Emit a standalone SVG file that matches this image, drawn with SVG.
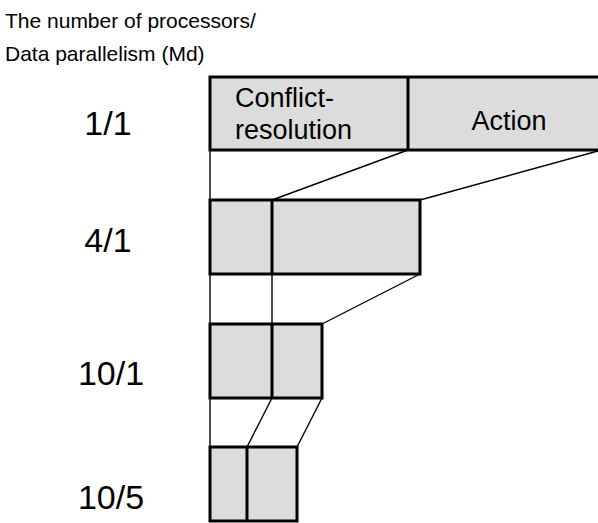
<svg xmlns="http://www.w3.org/2000/svg" width="598" height="523" viewBox="0 0 598 523">
<style>
text{font-family:"Liberation Sans",Arial,sans-serif;fill:#000}
.hdr{font-size:21px}
.lbl{font-size:34px;text-anchor:middle}
.in{font-size:27px}
.box{fill:#dcdcdc;stroke:#000;stroke-width:3}
.div{stroke:#000;stroke-width:3}
.con{stroke:#000;stroke-width:1.4;fill:none}
</style>
<rect width="598" height="523" fill="#fff"/>
<g id="header">
<text class="hdr" x="5" y="28">The number of processors/</text>
<text class="hdr" x="5" y="61">Data parallelism (Md)</text>
</g>
<g id="labels">
<text class="lbl" x="108" y="135">1/1</text>
<text class="lbl" x="108" y="252">4/1</text>
<text class="lbl" x="111" y="385">10/1</text>
<text class="lbl" x="111" y="509">10/5</text>
</g>
<g id="connectors">
<line class="con" x1="210" y1="150" x2="210" y2="200"/>
<line class="con" x1="408" y1="150" x2="272" y2="200"/>
<line class="con" x1="598" y1="151" x2="420" y2="200"/>
<line class="con" x1="210" y1="274" x2="210" y2="324"/>
<line class="con" x1="272" y1="274" x2="272" y2="324"/>
<line class="con" x1="420" y1="274" x2="322" y2="324"/>
<line class="con" x1="210" y1="398" x2="210" y2="447"/>
<line class="con" x1="272" y1="398" x2="247" y2="447"/>
<line class="con" x1="322" y1="398" x2="297" y2="447"/>
</g>
<g id="row-1-1">
<rect class="box" x="210" y="77" width="400" height="73"/>
<line class="div" x1="408" y1="77" x2="408" y2="150"/>
<text class="in" x="235" y="107">Conflict-</text>
<text class="in" x="235" y="139">resolution</text>
<text class="in" x="509" y="130" text-anchor="middle">Action</text>
</g>
<g id="row-4-1">
<rect class="box" x="210" y="200" width="210" height="74"/>
<line class="div" x1="272" y1="200" x2="272" y2="274"/>
</g>
<g id="row-10-1">
<rect class="box" x="210" y="324" width="112" height="74"/>
<line class="div" x1="272" y1="324" x2="272" y2="398"/>
</g>
<g id="row-10-5">
<rect class="box" x="210" y="447" width="87" height="74"/>
<line class="div" x1="247" y1="447" x2="247" y2="521"/>
</g>
</svg>
